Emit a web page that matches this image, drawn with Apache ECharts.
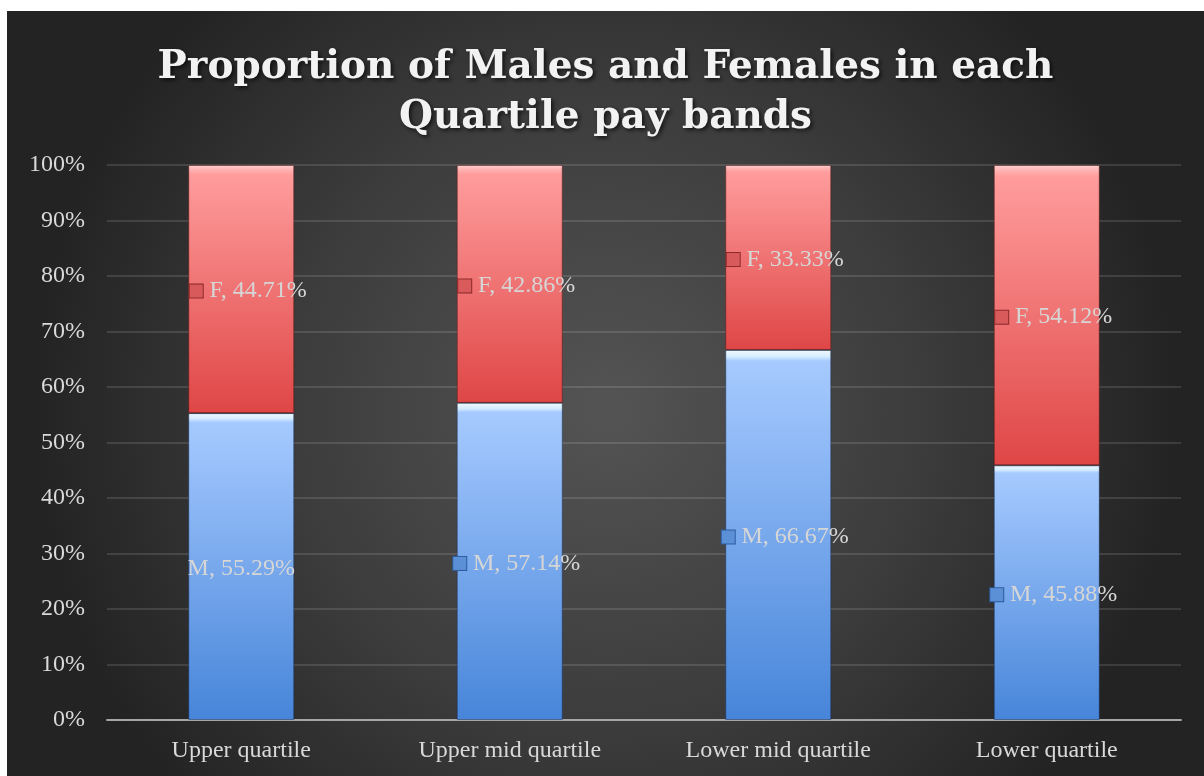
<!DOCTYPE html>
<html>
<head>
<meta charset="utf-8">
<script src="https://cdn.jsdelivr.net/npm/echarts@6/dist/echarts.min.js"></script>
<style>
  html, body { margin: 0; padding: 0; background: #ffffff; }
  #chart { position: absolute; left: 7px; top: 11px; width: 1197px; height: 765px; }
</style>
</head>
<body>
<div id="chart"></div>
<script>
const categories = ['Upper quartile', 'Upper mid quartile', 'Lower mid quartile', 'Lower quartile'];
const maleValues = [55.29, 57.14, 66.67, 45.88];
const femaleValues = [44.71, 42.86, 33.33, 54.12];
const maleMarkerShown = [false, true, true, true];
const yTicks = [0, 10, 20, 30, 40, 50, 60, 70, 80, 90, 100];
const titleText = 'Proportion of Males and Females in each\nQuartile pay bands';

const FONT = '"Liberation Serif", "DejaVu Serif", serif';
const TITLE_FONT = '"DejaVu Serif", "Liberation Serif", serif';
const chart = echarts.init(document.getElementById('chart'), null, { renderer: 'canvas' });

function richFor(markerColor, markerBorder) {
  return {
    m: {
      width: 13, height: 13,
      backgroundColor: markerColor,
      borderColor: markerBorder, borderWidth: 1
    },
    t: { color: '#d6d6d6', fontFamily: FONT, fontSize: 24 }
  };
}

function makeData(values, prefix, markers) {
  return values.map((v, i) => {
    const showMarker = markers ? markers[i] : true;
    return {
      value: v,
      label: {
        formatter: (showMarker ? '{m|}  ' : '') + '{t|' + prefix + ', ' + v.toFixed(2) + '%}',
        offset: showMarker ? [7, 2] : [0, 2]
      }
    };
  });
}

const option = {
  backgroundColor: {
    type: 'radial', x: 0.5, y: 0.52, r: 0.75,
    colorStops: [
      { offset: 0, color: '#545454' },
      { offset: 0.55, color: '#3c3c3c' },
      { offset: 1, color: '#232323' }
    ]
  },
  title: {
    text: titleText,
    left: 'center',
    top: 27,
    textStyle: {
      color: '#f2f2f2',
      fontFamily: TITLE_FONT,
      fontWeight: 'bold',
      fontSize: 39,
      lineHeight: 50,
      textShadowColor: 'rgba(0,0,0,0.7)',
      textShadowBlur: 4,
      textShadowOffsetX: 2,
      textShadowOffsetY: 2
    }
  },
  grid: { left: 100, right: 23, top: 154, bottom: 56, containLabel: false },
  xAxis: {
    type: 'category',
    data: categories,
    axisLine: { lineStyle: { color: '#a6a6a6', width: 2 } },
    axisTick: { show: false },
    axisLabel: { color: '#d9d9d9', fontFamily: FONT, fontSize: 24, margin: 19 }
  },
  yAxis: {
    type: 'value',
    min: yTicks[0], max: yTicks[yTicks.length - 1], interval: 10,
    axisLine: { show: false },
    axisTick: { show: false },
    axisLabel: { color: '#d9d9d9', fontFamily: FONT, fontSize: 24, margin: 22, formatter: '{value}%' },
    splitLine: { lineStyle: { color: 'rgba(255,255,255,0.12)', width: 2 } }
  },
  series: [
    {
      name: 'M', type: 'bar', stack: 'total', barWidth: 106,
      data: makeData(maleValues, 'M', maleMarkerShown),
      itemStyle: {
        color: {
          type: 'linear', x: 0, y: 0, x2: 0, y2: 1,
          colorStops: [
            { offset: 0, color: '#f0fbff' },
            { offset: 0.018, color: '#d6ecff' },
            { offset: 0.03, color: '#a6caff' },
            { offset: 1, color: '#4785d9' }
          ]
        },
        borderColor: 'rgba(20,40,80,0.45)', borderWidth: 1
      },
      label: {
        show: true, position: 'inside',
        rich: richFor('#5b8fd6', '#2e5c9e')
      }
    },
    {
      name: 'F', type: 'bar', stack: 'total', barWidth: 106,
      data: makeData(femaleValues, 'F', null),
      itemStyle: {
        color: {
          type: 'linear', x: 0, y: 0, x2: 0, y2: 1,
          colorStops: [
            { offset: 0, color: '#ffd2d2' },
            { offset: 0.02, color: '#ffb0b0' },
            { offset: 0.04, color: '#ff9c9c' },
            { offset: 1, color: '#df4646' }
          ]
        },
        borderColor: 'rgba(90,20,20,0.5)', borderWidth: 1
      },
      label: {
        show: true, position: 'inside',
        rich: richFor('#d95a5a', '#8e2a2a')
      }
    }
  ]
};
chart.setOption(option);
</script>
</body>
</html>
